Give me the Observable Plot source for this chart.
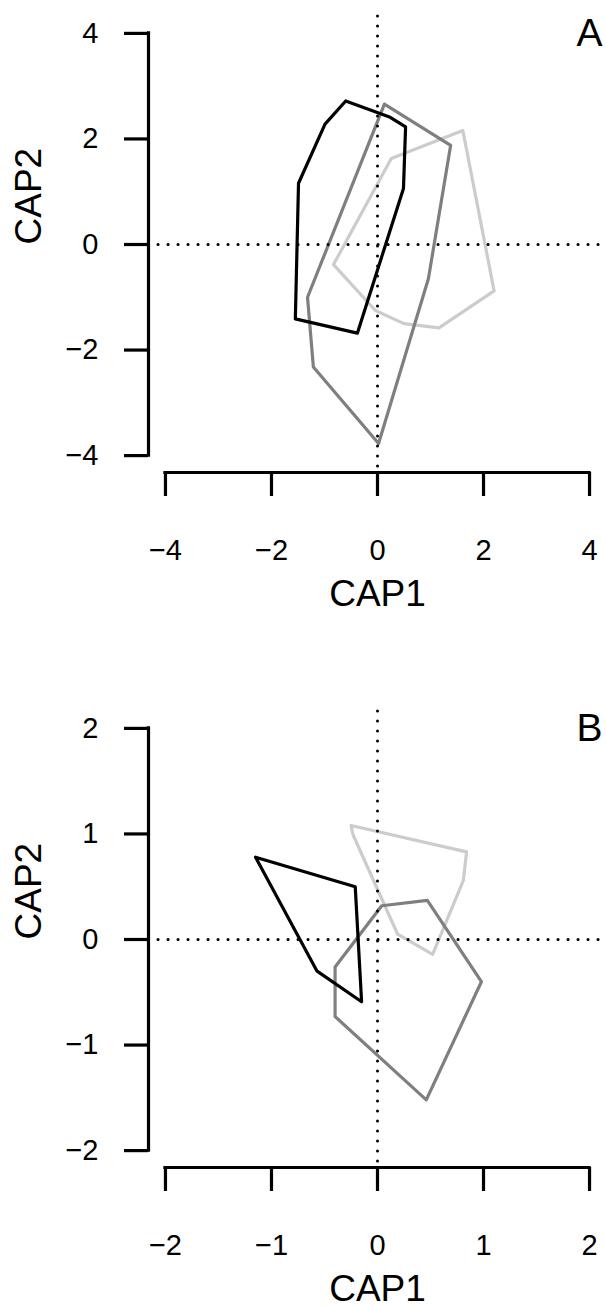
<!DOCTYPE html>
<html>
<head>
<meta charset="utf-8">
<script src="https://cdn.jsdelivr.net/npm/d3@7"></script>
<script src="https://cdn.jsdelivr.net/npm/@observablehq/plot@0.6"></script>
<style>
  html, body { margin: 0; padding: 0; background: #fff; }
  #chart { width: 606px; height: 1306px; }
  #chart svg { display: block; }
</style>
</head>
<body>
<div id="chart"></div>
<script>
// ---- Data ----
const groups = ["black", "mid", "light"];
const groupColors = ["#000000", "#7f7f7f", "#cccccc"];

// Panel A
const ticksA = [-4, -2, 0, 2, 4];
const aBlackX = [-0.60, 0.24, 0.53, 0.49, -0.38, -1.55, -1.49, -0.99];
const aBlackY = [2.72, 2.41, 2.23, 1.06, -1.68, -1.41, 1.16, 2.28];
const aMidX   = [0.13, 1.38, 0.96, 0.02, -1.21, -1.32];
const aMidY   = [2.66, 1.88, -0.65, -3.77, -2.32, -1.00];
const aLightX = [1.61, 2.20, 1.16, 0.50, -0.04, -0.83, 0.26];
const aLightY = [2.16, -0.88, -1.58, -1.50, -1.25, -0.38, 1.63];

// Panel B
const ticksB = [-2, -1, 0, 1, 2];
const bBlackX = [-1.15, -0.21, -0.15, -0.57];
const bBlackY = [0.78, 0.50, -0.59, -0.30];
const bMidX   = [0.04, 0.47, 0.98, 0.46, -0.40, -0.40];
const bMidY   = [0.32, 0.37, -0.40, -1.52, -0.73, -0.26];
const bLightX = [-0.25, 0.84, 0.81, 0.52, 0.19, -0.23];
const bLightY = [1.08, 0.83, 0.56, -0.14, 0.05, 0.99];

const xLabel = "CAP1";
const yLabel = "CAP2";

function toRows(xs, ys, g) {
  return xs.map((x, i) => ({x, y: ys[i], g}));
}

const fmt = d => (d < 0 ? "\u2212" + Math.abs(d) : String(d));
const FONT = "'Liberation Sans', Arial, Helvetica, sans-serif";

function panel({ticks, polys, letter, height, marginTop, marginBottom}) {
  const lo = ticks[0], hi = ticks[ticks.length - 1];
  const pad = 0.04 * (hi - lo);
  const dom = [lo - pad, hi + pad];
  const data = polys.flat();
  return Plot.plot({
    width: 606,
    height,
    marginLeft: 148,
    marginRight: 0,
    marginTop,
    marginBottom,
    style: {fontFamily: FONT, fontSize: "29px", color: "#000", background: "#fff", overflow: "visible"},
    x: {domain: dom, axis: null},
    y: {domain: dom, axis: null},
    color: {domain: groups, range: groupColors},
    marks: [
      // polygons
      Plot.line(data, {x: "x", y: "y", z: "g", stroke: "g", strokeWidth: 3.2,
        curve: "linear-closed", strokeLinejoin: "round"}),
      // dotted reference lines
      Plot.ruleX([0], {stroke: "#000", strokeWidth: 3, strokeDasharray: "0.1 9.9", strokeLinecap: "round"}),
      Plot.ruleY([0], {stroke: "#000", strokeWidth: 3, strokeDasharray: "0.1 9.9", strokeLinecap: "round"}),
      // axis lines (R style: spanning first to last tick)
      Plot.ruleY([dom[0]], {x1: lo, x2: hi, stroke: "#000", strokeWidth: 3.2, strokeLinecap: "square"}),
      Plot.ruleX([dom[0]], {y1: lo, y2: hi, stroke: "#000", strokeWidth: 3.2, strokeLinecap: "square"}),
      // tick marks
      Plot.axisX({ticks, tickFormat: () => "", tickSize: 24, strokeWidth: 3.2, label: null, anchor: "bottom"}),
      Plot.axisY({ticks, tickFormat: () => "", tickSize: 24, strokeWidth: 3.2, label: null, anchor: "left"}),
      // tick labels
      Plot.text(ticks, {x: d => d, text: fmt, frameAnchor: "bottom", lineAnchor: "top", dy: 67, fontSize: 29, fill: "#000"}),
      Plot.text(ticks, {y: d => d, text: fmt, frameAnchor: "left", textAnchor: "end", dx: -50, fontSize: 29, fill: "#000"}),
      // axis titles
      Plot.text([xLabel], {frameAnchor: "bottom", lineAnchor: "bottom", dy: 133, fontSize: 37, fill: "#000"}),
      Plot.text([yLabel], {frameAnchor: "left", rotate: -90, dx: -119, fontSize: 37, fill: "#000"}),
      // panel letter
      Plot.text([letter], {frameAnchor: "top-right", lineAnchor: "top", textAnchor: "end", dx: -4, dy: 2, fontSize: 39, fill: "#000"})
    ]
  });
}

const chart = document.getElementById("chart");
chart.appendChild(panel({
  ticks: ticksA,
  polys: [toRows(aLightX, aLightY, "light"), toRows(aMidX, aMidY, "mid"), toRows(aBlackX, aBlackY, "black")],
  letter: "A", height: 695, marginTop: 16, marginBottom: 223
}));
chart.appendChild(panel({
  ticks: ticksB,
  polys: [toRows(bLightX, bLightY, "light"), toRows(bMidX, bMidY, "mid"), toRows(bBlackX, bBlackY, "black")],
  letter: "B", height: 611, marginTop: 16, marginBottom: 139
}));
</script>
</body>
</html>
